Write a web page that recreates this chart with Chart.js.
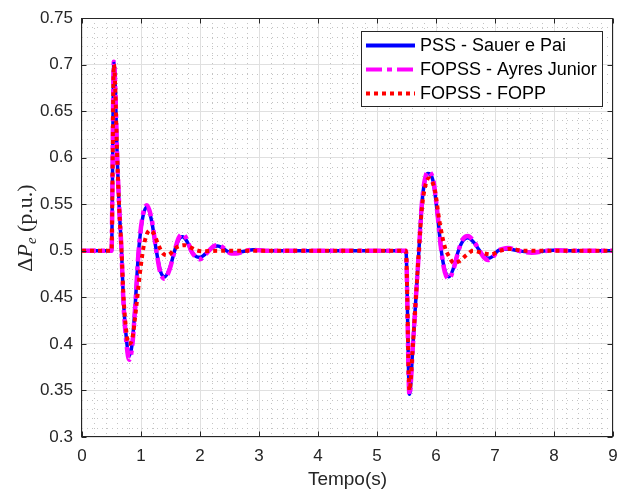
<!DOCTYPE html>
<html>
<head>
<meta charset="utf-8">
<script src="https://cdn.jsdelivr.net/npm/chart.js@4"></script>
<style>
  html, body { margin: 0; padding: 0; background: #fff; }
  #chart { display: block; }
</style>
</head>
<body>
<canvas id="chart" width="620" height="493"></canvas>
<script>
// Series (time in s, ΔPe in p.u.)
const labels = ['PSS - Sauer e Pai', 'FOPSS - Ayres Junior', 'FOPSS - FOPP'];

const tPss = [0, 0.5, 0.54, 0.6, 0.63, 0.67, 0.7, 0.74, 0.8, 0.85, 0.9, 0.96, 1.03, 1.1, 1.18, 1.26, 1.33, 1.4, 1.49, 1.57, 1.64, 1.7, 1.78, 1.85, 1.93, 2.0, 2.08, 2.15, 2.23, 2.3, 2.38, 2.45, 2.53, 2.61, 2.75, 2.9, 3.1, 3.4,
  5.49, 5.55, 5.61, 5.66, 5.71, 5.76, 5.81, 5.86, 5.95, 6.03, 6.09, 6.15, 6.22, 6.3, 6.38, 6.46, 6.54, 6.64, 6.74, 6.81, 6.88, 6.96, 7.05, 7.13, 7.22, 7.4, 7.62, 7.99, 8.3, 9];
const pss = [0.5, 0.5, 0.703, 0.595, 0.547, 0.5, 0.45, 0.414, 0.387, 0.40, 0.44, 0.5, 0.536, 0.547, 0.532, 0.5, 0.478, 0.472, 0.482, 0.5, 0.512, 0.515, 0.51, 0.5, 0.494, 0.493, 0.496, 0.5, 0.504, 0.505, 0.503, 0.5, 0.498, 0.498, 0.4995, 0.501, 0.5, 0.5,
  0.5, 0.346, 0.40, 0.45, 0.5, 0.55, 0.575, 0.583, 0.575, 0.536, 0.5, 0.479, 0.472, 0.482, 0.5, 0.511, 0.514, 0.509, 0.5, 0.494, 0.492, 0.494, 0.5, 0.5015, 0.502, 0.5, 0.4985, 0.5005, 0.5, 0.5];

const tAyres = tPss;
const ayres = [0.5, 0.5, 0.703, 0.595, 0.547, 0.5, 0.448, 0.41, 0.383, 0.397, 0.438, 0.5, 0.538, 0.549, 0.534, 0.5, 0.476, 0.47, 0.481, 0.5, 0.514, 0.518, 0.512, 0.5, 0.493, 0.491, 0.495, 0.5, 0.505, 0.506, 0.504, 0.5, 0.497, 0.497, 0.4995, 0.501, 0.5, 0.5,
  0.5, 0.345, 0.40, 0.45, 0.5, 0.55, 0.576, 0.585, 0.577, 0.537, 0.5, 0.477, 0.47, 0.481, 0.5, 0.513, 0.516, 0.51, 0.5, 0.493, 0.49, 0.493, 0.5, 0.502, 0.503, 0.5, 0.498, 0.5005, 0.5, 0.5];

const tFopp = [0, 0.5, 0.54, 0.6, 0.63, 0.67, 0.7, 0.74, 0.79, 0.85, 0.92, 0.98, 1.04, 1.1, 1.15, 1.22, 1.29, 1.36, 1.43, 1.5, 1.57, 1.65, 1.74, 1.83, 1.92, 2.05, 2.3, 3,
  5.49, 5.55, 5.61, 5.66, 5.71, 5.76, 5.82, 5.88, 5.98, 6.06, 6.15, 6.22, 6.3, 6.4, 6.51, 6.63, 6.77, 6.93, 7.08, 7.25, 7.5, 9];
const fopp = [0.5, 0.5, 0.7, 0.595, 0.547, 0.5, 0.455, 0.42, 0.40, 0.405, 0.44, 0.475, 0.503, 0.518, 0.522, 0.518, 0.507, 0.498, 0.495, 0.497, 0.502, 0.505, 0.506, 0.504, 0.501, 0.4995, 0.5, 0.5,
  0.5, 0.35, 0.40, 0.45, 0.5, 0.545, 0.57, 0.578, 0.565, 0.531, 0.504, 0.494, 0.487, 0.489, 0.495, 0.5, 0.498, 0.496, 0.5, 0.502, 0.5, 0.5];

const xMin = 0, xMax = 9, yMin = 0.3, yMax = 0.75;

const axisColor = '#262626';
const sansFont = '"Liberation Sans", Arial, Helvetica, sans-serif';
const serifFont = '"Liberation Serif", "Times New Roman", serif';

function toPoints(ts, vs) {
  return ts.map((t, i) => ({ x: t, y: vs[i] }));
}

// Minor grid, inner tick marks, box, legend and the y label (MATLAB look)
const matlabAxes = {
  id: 'matlabAxes',
  beforeDatasetsDraw(chart) {
    const { ctx, chartArea: a, scales: { x, y } } = chart;
    ctx.save();
    ctx.strokeStyle = '#c4c4c4';
    ctx.lineWidth = 1;
    ctx.setLineDash([1, 4]);
    ctx.beginPath();
    for (let i = 1; i < 45; i++) {
      if (i % 5 === 0) continue;
      const px = Math.round(x.getPixelForValue(i * 0.2)) + 0.5;
      ctx.moveTo(px, a.top);
      ctx.lineTo(px, a.bottom);
    }
    for (let i = 1; i < 45; i++) {
      if (i % 5 === 0) continue;
      const py = Math.round(y.getPixelForValue(yMin + i * 0.01)) + 0.5;
      ctx.moveTo(a.left, py);
      ctx.lineTo(a.right, py);
    }
    ctx.stroke();
    ctx.restore();
  },
  afterDatasetsDraw(chart) {
    const { ctx, chartArea: a, scales: { x, y } } = chart;
    ctx.save();
    ctx.strokeStyle = axisColor;
    ctx.lineWidth = 1;
    ctx.setLineDash([]);
    const L = Math.round(a.left) - 0.5, R = Math.round(a.right) - 0.5;
    const T = Math.round(a.top) + 0.5, B = Math.round(a.bottom) - 0.5;
    ctx.strokeRect(L, T, R - L, B - T);
    ctx.beginPath();
    x.ticks.forEach(tk => {
      const px = Math.round(x.getPixelForValue(tk.value)) + 0.5;
      ctx.moveTo(px, B); ctx.lineTo(px, B - 5);
      ctx.moveTo(px, T); ctx.lineTo(px, T + 5);
    });
    y.ticks.forEach(tk => {
      const py = Math.round(y.getPixelForValue(tk.value)) + 0.5;
      ctx.moveTo(L, py); ctx.lineTo(L + 5, py);
      ctx.moveTo(R, py); ctx.lineTo(R - 5, py);
    });
    ctx.stroke();

    // legend
    const bx = 361.5, by = 31.5, bw = 241, bh = 75;
    ctx.fillStyle = '#fff';
    ctx.fillRect(bx, by, bw, bh);
    ctx.strokeStyle = axisColor;
    ctx.strokeRect(bx, by, bw, bh);
    ctx.font = '18px ' + sansFont;
    ctx.textBaseline = 'middle';
    ctx.textAlign = 'left';
    chart.data.datasets.forEach((ds, i) => {
      const ly = 45.5 + i * 24;
      ctx.strokeStyle = ds.borderColor;
      ctx.lineWidth = 4;
      ctx.lineCap = 'butt';
      ctx.setLineDash(ds.legendDash || []);
      ctx.beginPath();
      ctx.moveTo(366, ly);
      ctx.lineTo(415, ly);
      ctx.stroke();
      ctx.fillStyle = '#000';
      ctx.fillText(ds.label, 420, ly + 1);
    });
    ctx.setLineDash([]);

    // y axis label: ΔP_e (p.u.)
    const parts = [
      { s: 'Δ', f: '22px ' + serifFont, dy: 0 },
      { s: 'P', f: 'italic 22px ' + serifFont, dy: 0 },
      { s: 'e', f: 'italic 15px ' + serifFont, dy: 4 },
      { s: ' (p.u.)', f: '22px ' + serifFont, dy: 0 }
    ];
    let total = 0;
    parts.forEach(p => { ctx.font = p.f; p.w = ctx.measureText(p.s).width; total += p.w; });
    ctx.translate(32, 228);
    ctx.rotate(-Math.PI / 2);
    ctx.fillStyle = axisColor;
    ctx.textBaseline = 'alphabetic';
    let cx = -total / 2;
    parts.forEach(p => {
      ctx.font = p.f;
      ctx.fillText(p.s, cx, p.dy);
      cx += p.w;
    });
    ctx.restore();
  }
};

new Chart(document.getElementById('chart'), {
  type: 'line',
  data: {
    datasets: [
      {
        label: labels[0],
        data: toPoints(tPss, pss),
        borderColor: '#0000ff',
        borderWidth: 3.5,
        order: 3
      },
      {
        label: labels[1],
        data: toPoints(tAyres, ayres),
        borderColor: '#ff00ff',
        borderWidth: 4.5,
        borderDash: [14, 5, 4, 5],
        legendDash: [16, 5, 5, 5],
        order: 2
      },
      {
        label: labels[2],
        data: toPoints(tFopp, fopp),
        borderColor: '#ff0000',
        borderWidth: 4,
        borderDash: [4, 4],
        legendDash: [4, 4],
        order: 1
      }
    ]
  },
  options: {
    responsive: false,
    animation: false,
    devicePixelRatio: 1,
    layout: { padding: { top: 18, right: 7, left: 0, bottom: 0 } },
    elements: {
      point: { radius: 0 },
      line: { cubicInterpolationMode: 'monotone', fill: false, borderCapStyle: 'butt' }
    },
    scales: {
      x: {
        type: 'linear',
        min: xMin,
        max: xMax,
        afterFit: s => { s.height = 56; s.paddingLeft = 0; s.paddingRight = 0; },
        ticks: {
          stepSize: 1,
          padding: 9,
          color: axisColor,
          font: { family: sansFont, size: 17 },
          maxRotation: 0
        },
        grid: { color: '#e0e0e0', drawTicks: false },
        border: { display: false },
        title: {
          display: true,
          text: 'Tempo(s)',
          color: axisColor,
          font: { family: sansFont, size: 19 },
          padding: { top: 0, bottom: 2 }
        }
      },
      y: {
        type: 'linear',
        min: yMin,
        max: yMax,
        afterFit: s => { s.width = 82; s.paddingTop = 0; s.paddingBottom = 0; },
        ticks: {
          stepSize: 0.05,
          padding: 9,
          color: axisColor,
          font: { family: sansFont, size: 17 },
          callback: v => String(Number(v.toFixed(2)))
        },
        grid: { color: '#e0e0e0', drawTicks: false },
        border: { display: false }
      }
    },
    plugins: {
      legend: { display: false },
      tooltip: { enabled: false }
    }
  },
  plugins: [matlabAxes]
});
</script>
</body>
</html>
